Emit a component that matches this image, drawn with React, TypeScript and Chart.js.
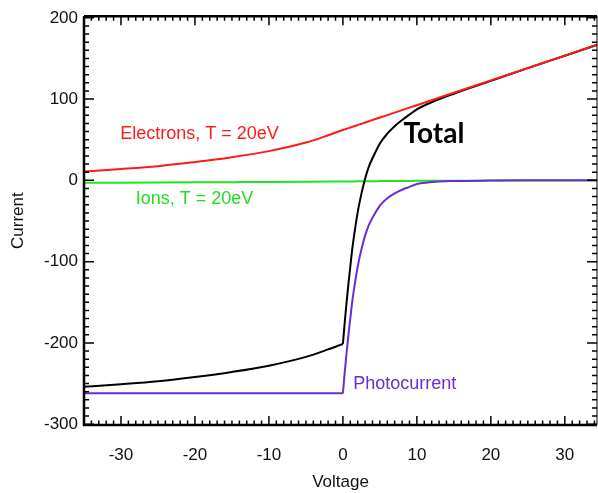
import { useEffect, useRef } from "react";
import { Chart, registerables } from "chart.js";

Chart.register(...registerables);

// Probe voltage (V) sample points
const voltage = [-35, -30, -25, -20, -15, -10, -5, -2, 0, 0.25, 0.5, 0.75, 1, 1.25, 1.5, 2, 2.5, 3, 3.5, 4, 5, 6, 7, 8, 9, 10, 12, 15, 20, 25, 30, 35];

// Electron current, T = 20 eV
const electrons = [11, 14, 17.5, 22.5, 28.5, 36, 46.5, 55.5, 62, 62.8, 63.5, 64.3, 65.1, 65.8, 66.6, 68.1, 69.6, 71.2, 72.7, 74.2, 77.3, 80.3, 83.4, 86.4, 89.5, 92.5, 98.6, 107.8, 123, 138.3, 153.5, 168.8];

// Ion current, T = 20 eV
const ions = [-3, -2.8, -2.6, -2.4, -2.2, -2, -1.7, -1.5, -1.3, -1.3, -1.3, -1.3, -1.3, -1.25, -1.25, -1.2, -1.15, -1.1, -1.05, -1, -0.9, -0.85, -0.8, -0.7, -0.65, -0.6, -0.5, -0.4, -0.3, -0.2, -0.1, -0.1];

// Photocurrent
const photocurrent = [-262, -262, -262, -262, -262, -262, -262, -262, -262, -236, -212, -190, -170, -150, -134, -106, -85, -68, -55, -46, -31, -22, -16, -11.5, -8, -4.5, -2, -0.8, -0.3, 0, 0, 0];

// Total current
const total = [-254, -250.8, -247.1, -241.9, -235.7, -228, -217.2, -208, -201.3, -174.5, -149.8, -127, -106.2, -85.5, -68.7, -39.1, -16.6, 2.1, 16.7, 27.2, 45.4, 57.5, 66.6, 74.2, 80.9, 87.4, 96.1, 106.6, 122.4, 138.1, 153.4, 168.7];

const xTickValues = [-30, -20, -10, 0, 10, 20, 30];
const yTickValues = [-300, -200, -100, 0, 100, 200];
const xAxisTitle = "Voltage";
const yAxisTitle = "Current";

const RED = "#ff1a1a";
const GREEN = "#1ee61e";
const PURPLE = "#6a2bd8";
const BLACK = "#000000";
const FONT = "'Liberation Sans', Arial, Helvetica, sans-serif";

const labels = [
  { text: "Electrons, T = 20eV", x: -30.1, y: 57, color: RED, font: `18px ${FONT}` },
  { text: "Ions, T = 20eV", x: -28, y: -22.5, color: "#22dd22", font: `18px ${FONT}` },
  { text: "Photocurrent", x: 1.4, y: -250, color: PURPLE, font: `18px ${FONT}` },
  { text: "Total", x: 8.2, y: 57, color: BLACK, font: `bold 28px Lato, ${FONT}` },
];

const toPoints = (ys: number[]) => voltage.map((v, i) => ({ x: v, y: ys[i] }));
// split at the V = 0 knee so the smoothing keeps the corner sharp
const below = (ys: number[]) => toPoints(ys).filter((p) => p.x <= 0);
const above = (ys: number[]) => toPoints(ys).filter((p) => p.x >= 0);

const framePlugin = {
  id: "frameTicks",
  afterDatasetsDraw(chart: any) {
    const { ctx, chartArea, scales } = chart;
    const { left, right, top, bottom } = chartArea;
    const xs = scales.x;
    const ys = scales.y;
    ctx.save();
    ctx.strokeStyle = "#000";
    ctx.lineWidth = 2.5;
    ctx.beginPath();
    ctx.moveTo(left, top);
    ctx.lineTo(left, bottom);
    ctx.lineTo(right, bottom);
    ctx.moveTo(left, top);
    ctx.lineTo(right, top);
    ctx.stroke();
    ctx.lineWidth = 1;
    ctx.beginPath();
    ctx.moveTo(right, top);
    ctx.lineTo(right, bottom);
    ctx.stroke();

    ctx.lineWidth = 1.5;
    ctx.beginPath();
    for (let v = -35; v <= 35; v++) {
      const px = xs.getPixelForValue(v);
      if (px < left - 0.5 || px > right + 0.5) continue;
      const len = v % 10 === 0 ? 9 : 4.5;
      ctx.moveTo(px, bottom);
      ctx.lineTo(px, bottom - len);
      ctx.moveTo(px, top);
      ctx.lineTo(px, top + len);
    }
    for (let v = -300; v <= 200; v += 10) {
      const py = ys.getPixelForValue(v);
      if (py < top - 0.5 || py > bottom + 0.5) continue;
      const len = v % 100 === 0 ? 10 : 5;
      ctx.moveTo(left, py);
      ctx.lineTo(left + len, py);
      ctx.moveTo(right, py);
      ctx.lineTo(right - len, py);
    }
    ctx.stroke();

    ctx.textAlign = "left";
    ctx.textBaseline = "middle";
    for (const l of labels) {
      ctx.font = l.font;
      ctx.fillStyle = l.color;
      ctx.fillText(l.text, xs.getPixelForValue(l.x), ys.getPixelForValue(l.y));
    }
    ctx.restore();
  },
};

export default function App() {
  const canvasRef = useRef<HTMLCanvasElement | null>(null);

  useEffect(() => {
    if (!canvasRef.current) return;
    const common = { borderWidth: 2, pointRadius: 0, cubicInterpolationMode: "monotone" as const };
    const chart = new Chart(canvasRef.current, {
      type: "line",
      data: {
        datasets: [
          { label: "Electrons", data: toPoints(electrons), borderColor: RED, ...common },
          { label: "Total", data: below(total), borderColor: BLACK, ...common },
          { label: "Total (V>0)", data: above(total), borderColor: BLACK, ...common },
          { label: "Photocurrent", data: below(photocurrent), borderColor: PURPLE, ...common },
          { label: "Photocurrent (V>0)", data: above(photocurrent), borderColor: PURPLE, ...common },
          { label: "Ions", data: toPoints(ions), borderColor: GREEN, ...common },
        ],
      },
      options: {
        animation: false,
        responsive: false,
        maintainAspectRatio: false,
        layout: { padding: { top: 15, right: 1, left: 0, bottom: 0 } },
        plugins: { legend: { display: false }, tooltip: { enabled: false } },
        scales: {
          x: {
            type: "linear",
            min: -35,
            max: 34.35,
            grid: { display: false, drawTicks: false },
            border: { display: false },
            afterFit: (scale: any) => { scale.height = 68; },
            afterBuildTicks: (scale: any) => { scale.ticks = xTickValues.map((v) => ({ value: v })); },
            ticks: { color: "#111", font: { family: FONT, size: 17 }, padding: 20, maxRotation: 0, autoSkip: false },
            title: { display: true, text: xAxisTitle, color: "#111", font: { family: FONT, size: 17 }, padding: 0 },
          },
          y: {
            type: "linear",
            min: -301,
            max: 202,
            grid: { display: false, drawTicks: false },
            border: { display: false },
            afterFit: (scale: any) => { scale.width = 84; },
            afterBuildTicks: (scale: any) => { scale.ticks = yTickValues.map((v) => ({ value: v })); },
            ticks: { color: "#111", font: { family: FONT, size: 17 }, padding: 6, autoSkip: false },
            title: { display: true, text: yAxisTitle, color: "#111", font: { family: FONT, size: 17 }, padding: { top: 8, bottom: 0 } },
          },
        },
      },
      plugins: [framePlugin],
    });
    return () => chart.destroy();
  }, []);

  return (
    <div style={{ position: "absolute", left: 0, top: 0, width: 598, height: 493, background: "#fff" }}>
      <canvas ref={canvasRef} width={598} height={493} style={{ display: "block" }} />
    </div>
  );
}
